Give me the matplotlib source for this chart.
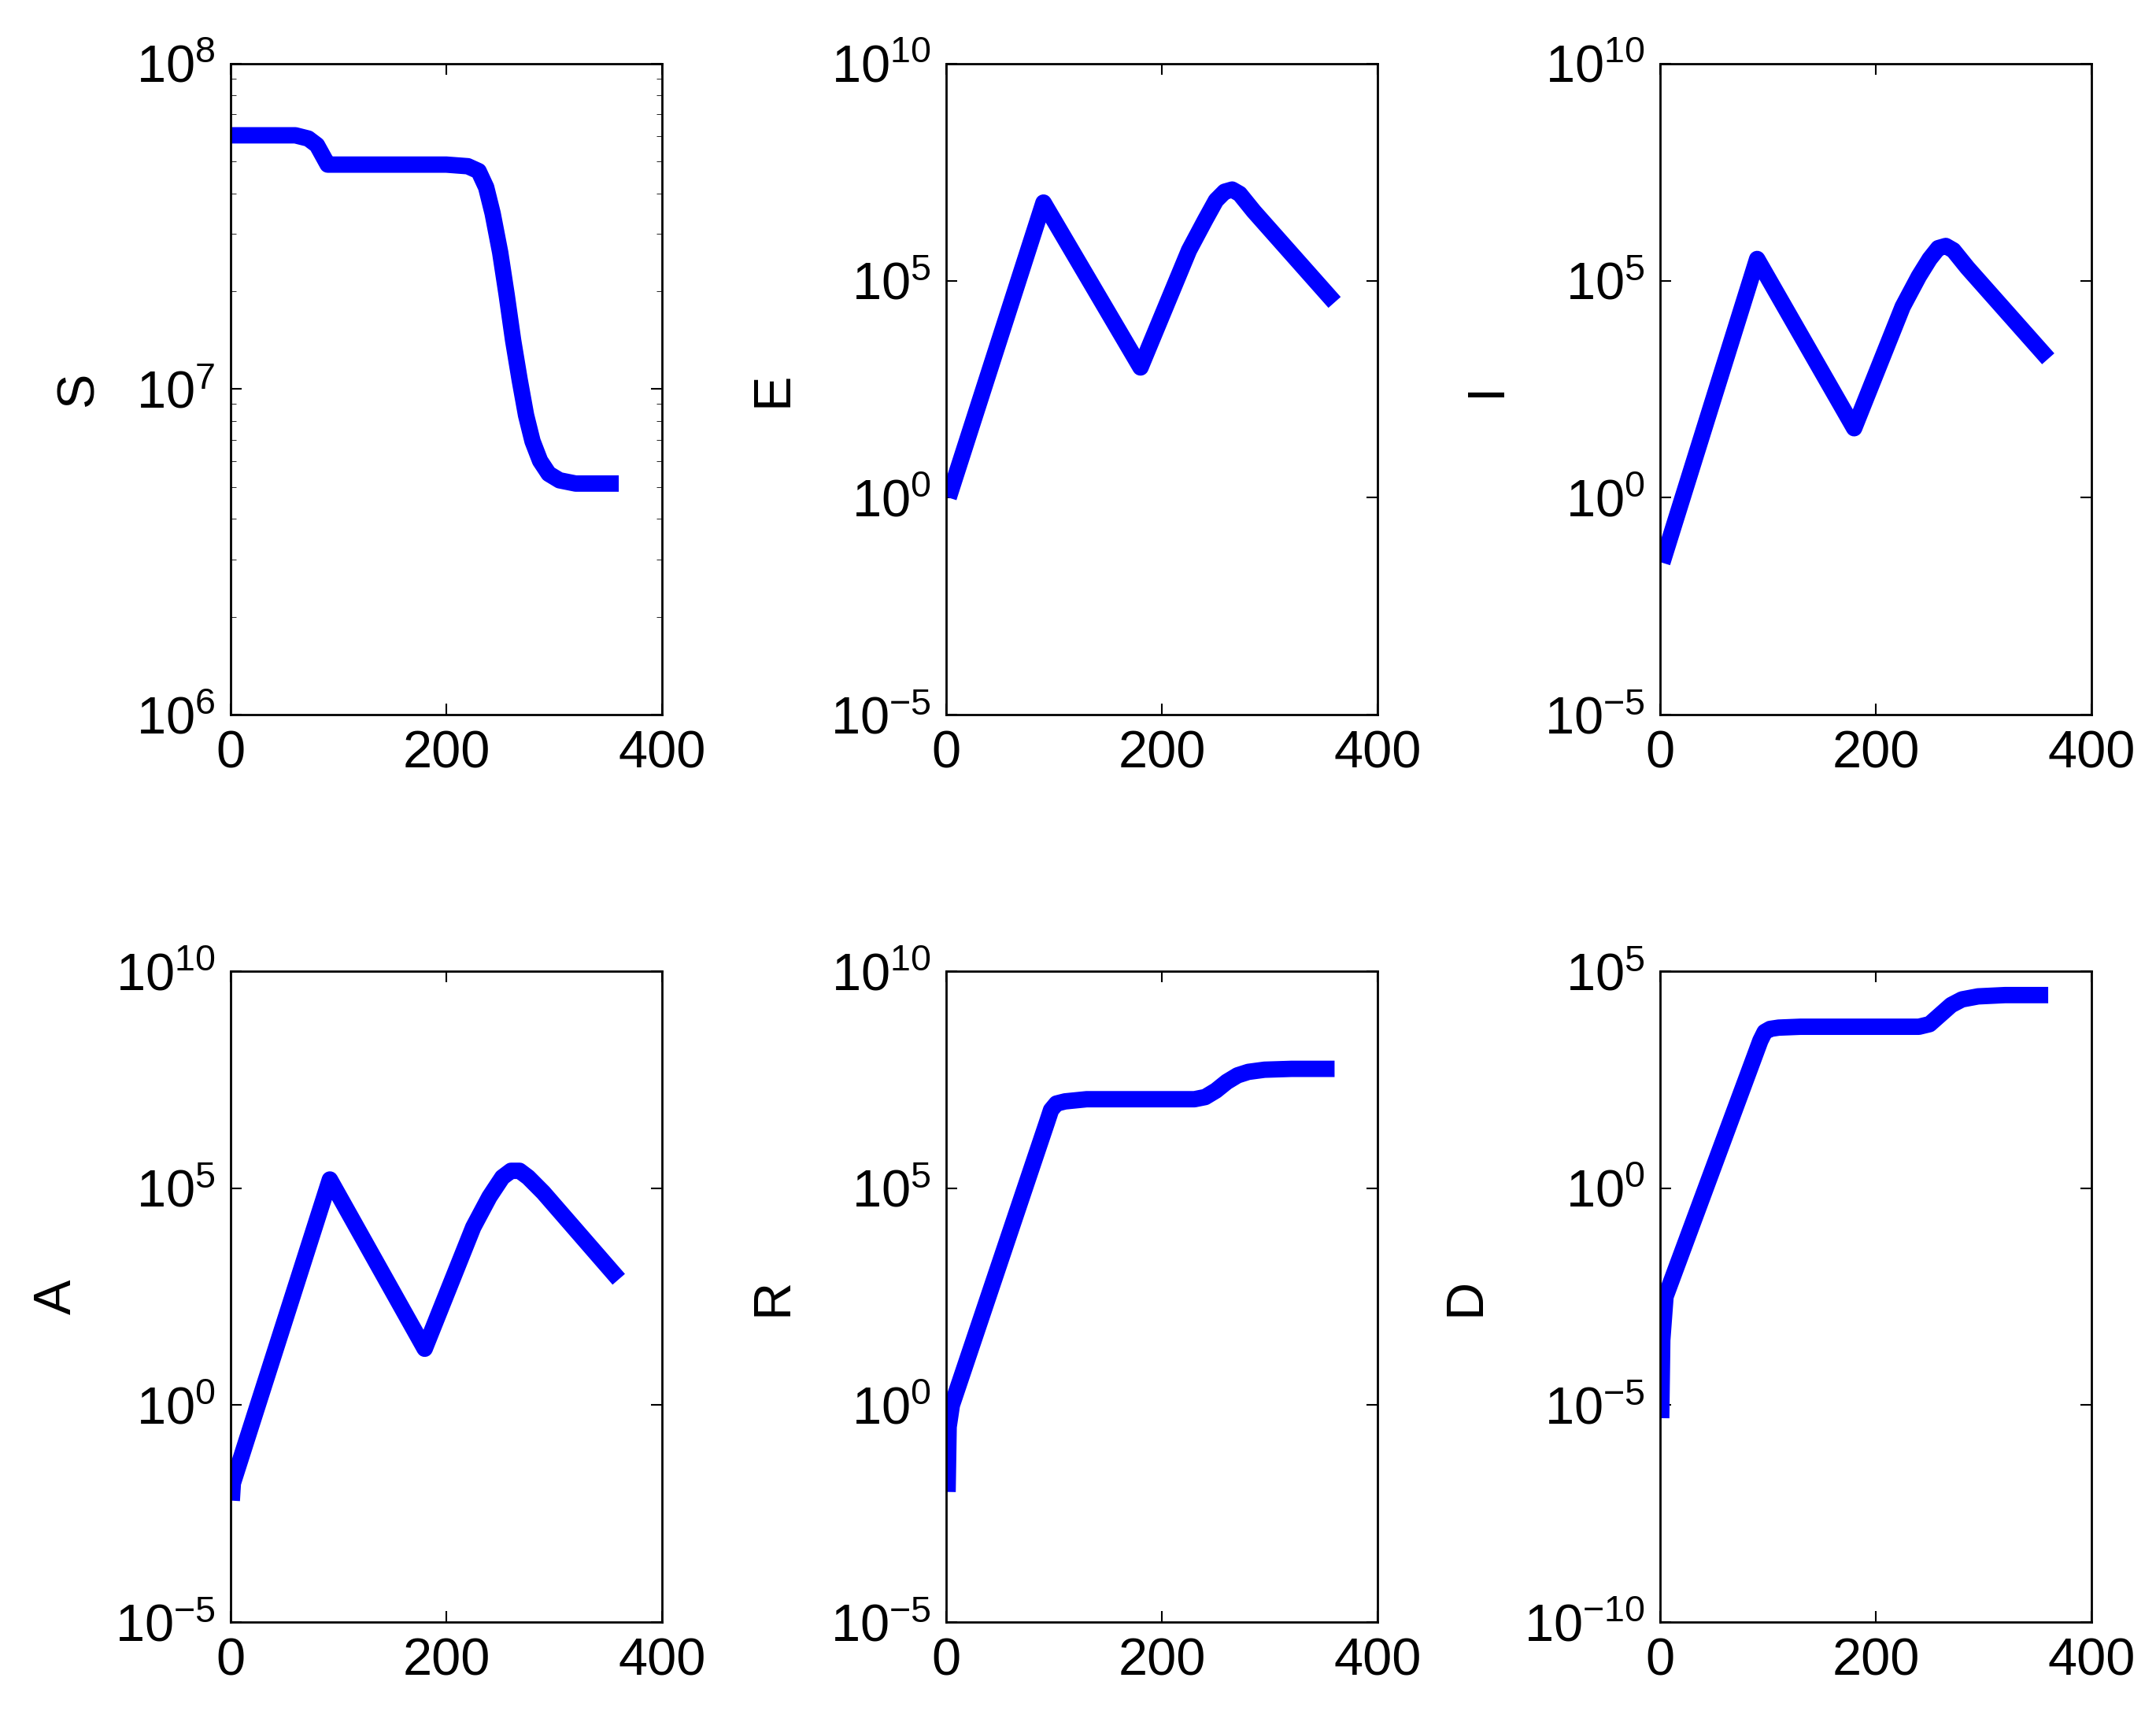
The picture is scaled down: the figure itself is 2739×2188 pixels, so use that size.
import matplotlib.pyplot as plt
import numpy as np

# time points and log10 values
t_S = [0, 60, 72, 80, 85, 90, 95, 120, 200, 220, 230, 237, 243, 250, 256, 262, 268, 274, 280, 287, 295, 305, 320, 340, 360]
S = [7.78, 7.78, 7.77, 7.75, 7.72, 7.69, 7.69, 7.69, 7.69, 7.685, 7.67, 7.62, 7.54, 7.42, 7.29, 7.15, 7.03, 6.92, 6.84, 6.78, 6.74, 6.72, 6.71, 6.71, 6.71]

t_E = [2, 90, 180, 225, 240, 250, 258, 265, 272, 285, 360]
E = [0.0, 6.8, 3.0, 5.7, 6.4, 6.85, 7.05, 7.1, 7.0, 6.6, 4.5]

t_I = [2, 90, 180, 225, 240, 250, 258, 265, 272, 285, 360]
I = [-1.5, 5.5, 1.6, 4.4, 5.1, 5.5, 5.75, 5.8, 5.7, 5.3, 3.2]

t_A = [1, 2, 92, 180, 225, 240, 252, 260, 268, 276, 290, 360]
A = [-2.2, -1.8, 5.2, 1.3, 4.1, 4.8, 5.25, 5.4, 5.4, 5.25, 4.9, 2.9]

t_R = [1, 2, 5, 93, 97, 102, 110, 130, 230, 240, 250, 260, 270, 280, 295, 320, 360]
R = [-2.0, -0.5, 0.0, 6.5, 6.8, 6.95, 7.0, 7.05, 7.05, 7.1, 7.25, 7.45, 7.6, 7.68, 7.73, 7.75, 7.75]

t_D = [1, 2, 5, 93, 97, 102, 110, 130, 240, 250, 260, 270, 280, 295, 320, 360]
D = [-5.3, -3.5, -2.5, 3.4, 3.6, 3.67, 3.7, 3.72, 3.72, 3.78, 4.0, 4.22, 4.35, 4.42, 4.45, 4.45]

names = ['S', 'E', 'I', 'A', 'R', 'D']
series = [(t_S, S), (t_E, E), (t_I, I), (t_A, A), (t_R, R), (t_D, D)]
ylims = [(1e6, 1e8), (1e-5, 1e10), (1e-5, 1e10), (1e-5, 1e10), (1e-5, 1e10), (1e-10, 1e5)]
yticks = [[1e6, 1e7, 1e8]] + [[1e-5, 1e0, 1e5, 1e10]] * 4 + [[1e-10, 1e-5, 1e0, 1e5]]

plt.rcParams['font.family'] = 'Liberation Sans'
plt.rcParams['mathtext.fontset'] = 'custom'
plt.rcParams['mathtext.rm'] = 'Liberation Sans'
fig = plt.figure(figsize=(27.39, 21.88), dpi=100)

lefts = [0.107, 0.439, 0.770]
bottoms = [0.585, 0.058]
for k in range(6):
    ax = fig.add_axes([lefts[k % 3], bottoms[k // 3], 0.2, 0.378])
    t, v = series[k]
    ax.semilogy(t, 10 ** np.array(v), color='#0000ff', lw=15,
                solid_capstyle='butt', solid_joinstyle='round')
    ax.set_xlim(0, 400)
    ax.set_xticks([0, 200, 400])
    ax.set_ylim(*ylims[k])
    ax.set_yticks(yticks[k])
    if k > 0:
        ax.yaxis.set_minor_locator(plt.NullLocator())
    ax.tick_params(direction='in', top=True, right=True, labelsize=48, length=10, width=1.5, pad=14)
    ax.tick_params(which='minor', direction='in', right=True, length=5)
    for s in ax.spines.values():
        s.set_linewidth(2)
    ax.set_ylabel(names[k], fontsize=48, labelpad=30)

fig.savefig('out.png')
